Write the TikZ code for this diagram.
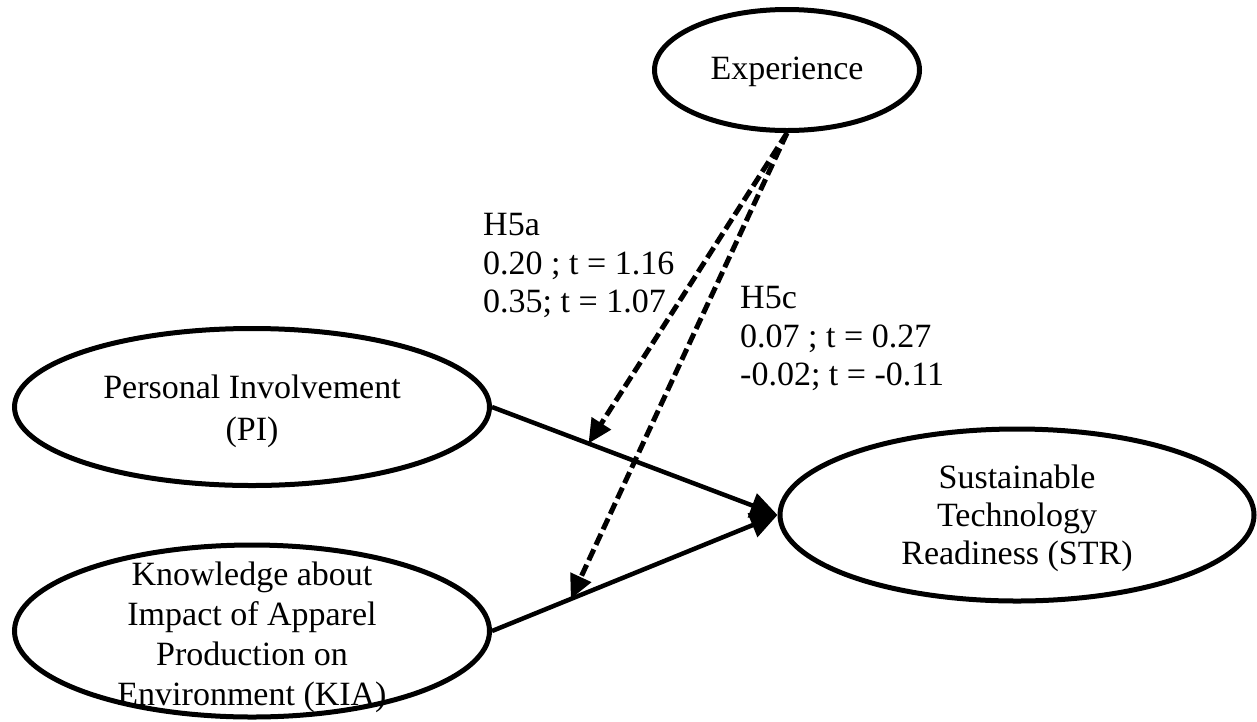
\documentclass[tikz,border=0pt]{standalone}
\usepackage{fontspec}
\setmainfont{Liberation Serif}
\usetikzlibrary{arrows.meta,calc,shapes.geometric}
\begin{document}
\begin{tikzpicture}[x=1pt,y=-1pt,
  construct/.style={draw,ellipse,line width=5pt,inner sep=0pt},
  ctext/.style={align=center,inner sep=0pt,font=\fontsize{34}{40}\selectfont},
  lab/.style={anchor=base west,inner sep=0pt,font=\fontsize{34}{38}\selectfont},
  path/.style={line width=4.5pt,-{Triangle[length=27pt,width=25pt]}},
  moderation/.style={line width=5pt,dash pattern=on 12pt off 5pt,
    -{Triangle[length=24pt,width=22pt]}}]
\useasboundingbox (0,0) rectangle (1257,721);

% latent constructs
\node[construct,minimum width=265pt,minimum height=121pt] (exp) at (787,70) {};
\node[construct,minimum width=475pt,minimum height=157pt] (pi)  at (252,407) {};
\node[construct,minimum width=475pt,minimum height=172pt] (kia) at (252,631) {};
\node[construct,minimum width=474pt,minimum height=172pt] (str) at (1017,515) {};

% construct names
\node[ctext] (expt) at (787,72) {Experience};
\node[ctext,font=\fontsize{34}{42}\selectfont] (pit) at (252,411) {Personal Involvement\\(PI)};
\node[ctext] (kiat) at (252,637) {Knowledge about\\Impact of Apparel\\Production on\\Environment (KIA)};
\node[ctext,font=\fontsize{34}{38}\selectfont] (strt) at (1017,518) {Sustainable\\Technology\\Readiness (STR)};

% direct paths
\draw[path] (pi.east) -- (str.west);
\draw[path] (kia.east) -- (str.west);

% moderating effects of experience
\coordinate (m1) at ($(pi.east)!0.338!(str.west)$);
\coordinate (m2) at ($(kia.east)!0.276!(str.west)$);
\draw[moderation] (exp.south) -- (m1);
\draw[moderation] (exp.south) -- (m2);

% estimates
\node[lab] (a1) at (483,235) {H5a};
\node[lab] (a2) at (483,274) {0.20 ; t = 1.16};
\node[lab] (a3) at (483,312) {0.35; t = 1.07};
\node[lab] (c1) at (740,308) {H5c};
\node[lab] (c2) at (740,347) {0.07 ; t = 0.27};
\node[lab] (c3) at (740,385) {-0.02; t = -0.11};
\end{tikzpicture}
\end{document}
